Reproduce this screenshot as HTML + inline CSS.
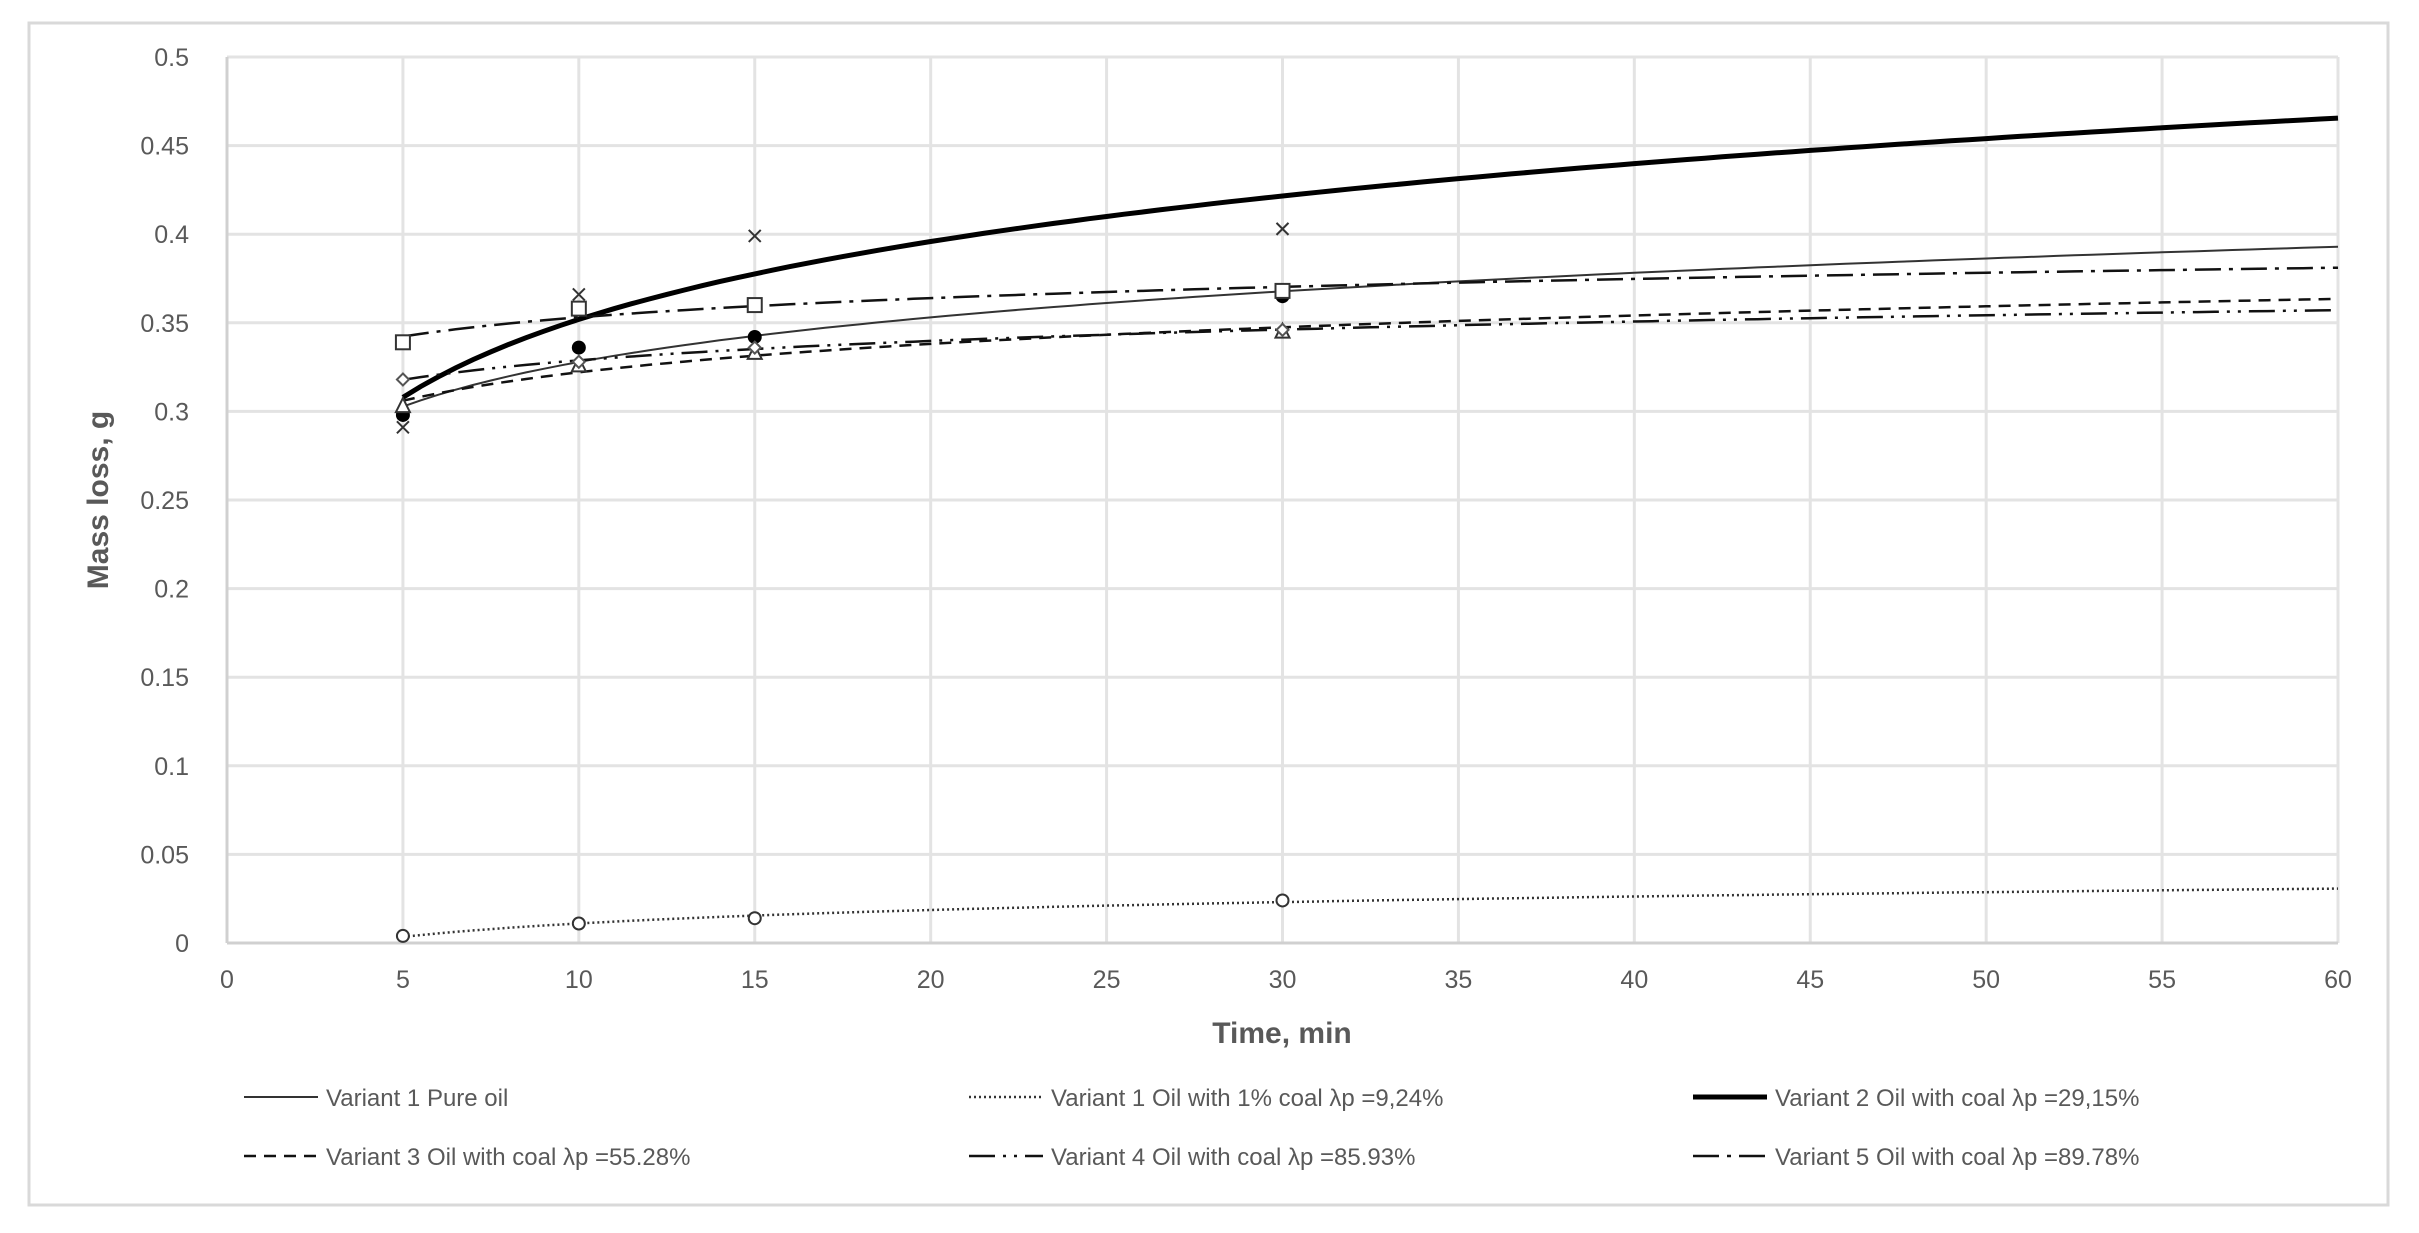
<!DOCTYPE html>
<html><head><meta charset="utf-8"><style>
html,body{margin:0;padding:0;background:#fff;}
svg{display:block;font-family:"Liberation Sans",sans-serif;}
</style></head><body>
<svg id="chart" width="2419" height="1233" viewBox="0 0 2419 1233" xmlns="http://www.w3.org/2000/svg">
<rect x="29" y="23" width="2359" height="1182" fill="#fff" stroke="#d9d9d9" stroke-width="3"/>
<g id="grid"></g>
<g id="ticks"></g>
<g id="series"></g>
<text x="1282" y="1043" text-anchor="middle" font-size="30" font-weight="bold" fill="#595959">Time, min</text>
<text transform="translate(108,500) rotate(-90)" text-anchor="middle" font-size="30" font-weight="bold" fill="#595959">Mass loss, g</text>
<g id="legend"></g>
</svg>
<script>
const times = [5, 10, 15, 30];
const v1Pure = [0.298, 0.336, 0.342, 0.365];
const v1Coal = [0.004, 0.011, 0.014, 0.024];
const v2 = [0.291, 0.366, 0.399, 0.403];
const v3 = [0.303, 0.326, 0.333, 0.345];
const v4 = [0.318, 0.328, 0.336, 0.346];
const v5 = [0.339, 0.358, 0.360, 0.368];
const xTicks = [0,5,10,15,20,25,30,35,40,45,50,55,60];
const yTicks = [0,0.05,0.1,0.15,0.2,0.25,0.3,0.35,0.4,0.45,0.5];
const yTickLabels = ["0","0.05","0.1","0.15","0.2","0.25","0.3","0.35","0.4","0.45","0.5"];
const legendLabels = ["Variant 1 Pure oil","Variant 1 Oil with 1% coal λp =9,24%","Variant 2 Oil with coal λp =29,15%","Variant 3 Oil with coal λp =55.28%","Variant 4 Oil with coal λp =85.93%","Variant 5 Oil with coal λp =89.78%"];

const NS="http://www.w3.org/2000/svg";
const L=227,R=2338,T=57,B=943;
const xs=v=>L+(v-0)/(60-0)*(R-L);
const ys=v=>B-(v-0)/(0.5-0)*(B-T);
function mk(tag,attrs,parent){const e=document.createElementNS(NS,tag);for(const k in attrs)e.setAttribute(k,attrs[k]);parent.appendChild(e);return e;}
const grid=document.getElementById('grid'),ticks=document.getElementById('ticks'),ser=document.getElementById('series'),leg=document.getElementById('legend');

yTicks.forEach((v,i)=>{
  const ln=mk('line',{x1:L,x2:R,y1:ys(v),y2:ys(v),stroke:'#e3e3e3','stroke-width':3},grid);
  
  
  const t=mk('text',{x:L-38,y:ys(v)+9,'text-anchor':'end','font-size':25,fill:'#595959'},ticks);
  t.textContent=yTickLabels[i];
  
  
});
xTicks.forEach(v=>{
  const ln=mk('line',{x1:xs(v),x2:xs(v),y1:T,y2:B,stroke:'#e3e3e3','stroke-width':3},grid);
  
  
  const t=mk('text',{x:xs(v),y:B+45,'text-anchor':'middle','font-size':25,fill:'#595959'},ticks);
  t.textContent=String(v);
  
  
});
mk('line',{x1:L,x2:L,y1:T,y2:B,stroke:'#d0d0d0','stroke-width':3},grid);
mk('line',{x1:L,x2:R,y1:B,y2:B,stroke:'#d0d0d0','stroke-width':3},grid);

function logFit(xv,yv){const n=xv.length;let sx=0,sy=0,sxx=0,sxy=0;for(let i=0;i<n;i++){const lx=Math.log(xv[i]);sx+=lx;sy+=yv[i];sxx+=lx*lx;sxy+=lx*yv[i];}const b=(n*sxy-sx*sy)/(n*sxx-sx*sx);const a=(sy-b*sx)/n;return t=>a+b*Math.log(t);}

const series=[
 {name:'variant-1-pure-oil',data:v1Pure,w:2,dash:'',col:'#333',marker:'dot'},
 {name:'variant-1-coal',data:v1Coal,w:2.5,dash:'2 3',col:'#333',marker:'circle'},
 {name:'variant-2',data:v2,w:5,dash:'',col:'#000',marker:'x'},
 {name:'variant-3',data:v3,w:2.5,dash:'12 8',col:'#111',marker:'tri'},
 {name:'variant-4',data:v4,w:2.5,dash:'26 8 3 8 3 8',col:'#111',marker:'diamond'},
 {name:'variant-5',data:v5,w:2.5,dash:'26 8 4 8',col:'#111',marker:'square'}
];
series.forEach(s=>{
  const f=logFit(times,s.data);
  let d='';
  for(let t=5;t<=60.001;t+=0.5){d+=(d?'L':'M')+xs(t).toFixed(1)+','+ys(f(t)).toFixed(1);}
  const p=mk('path',{d:d,fill:'none',stroke:s.col,'stroke-width':s.w,'stroke-dasharray':s.dash},ser);
  
  
  s.data.forEach((v,i)=>{
    const cx=xs(times[i]),cy=ys(v);let m;
    if(s.marker==='dot')m=mk('circle',{cx:cx,cy:cy,r:7,fill:'#000'},ser);
    else if(s.marker==='circle')m=mk('circle',{cx:cx,cy:cy,r:6,fill:'#fff',stroke:'#333','stroke-width':2},ser);
    else if(s.marker==='x')m=mk('path',{d:`M${cx-6},${cy-6}L${cx+6},${cy+6}M${cx+6},${cy-6}L${cx-6},${cy+6}`,stroke:'#333','stroke-width':2},ser);
    else if(s.marker==='tri')m=mk('path',{d:`M${cx},${cy-8}L${cx+7},${cy+6}L${cx-7},${cy+6}Z`,fill:'#fff',stroke:'#333','stroke-width':2},ser);
    else if(s.marker==='diamond')m=mk('path',{d:`M${cx},${cy-6}L${cx+6},${cy}L${cx},${cy+6}L${cx-6},${cy}Z`,fill:'#fff',stroke:'#555','stroke-width':2},ser);
    else m=mk('rect',{x:cx-7,y:cy-7,width:14,height:14,fill:'#fff',stroke:'#333','stroke-width':2},ser);
    
    
  });
});

const legX=[244,969,1693],legY=[1097,1156];
series.forEach((s,i)=>{
  const x=legX[i%3],y=legY[Math.floor(i/3)];
  const g=mk('g',{},leg);
  
  
  mk('line',{x1:x,x2:x+74,y1:y,y2:y,stroke:s.col,'stroke-width':s.w,'stroke-dasharray':s.dash},g);
  const t=mk('text',{x:x+82,y:y+9,'font-size':24,fill:'#595959'},g);
  t.textContent=legendLabels[i];
});
</script>
</body></html>
